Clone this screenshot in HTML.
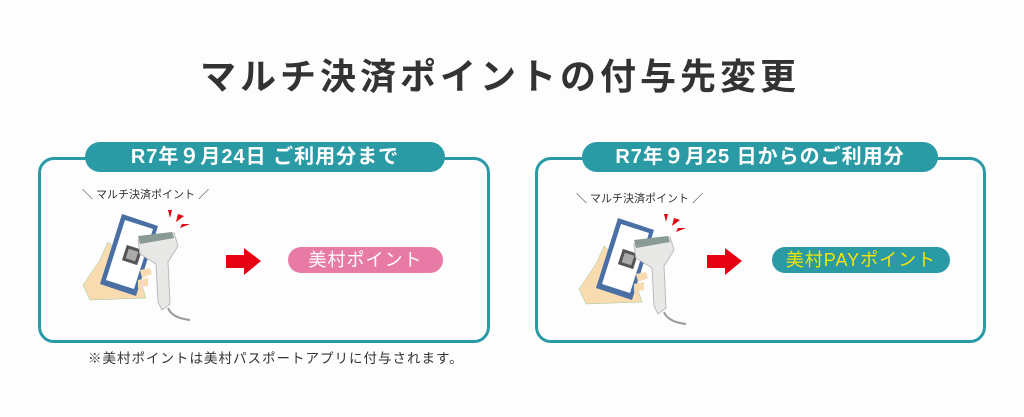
<!DOCTYPE html>
<html><head><meta charset="utf-8"><style>
body{margin:0;width:1024px;height:417px;background:#fdfdfd;position:relative;overflow:hidden;font-family:"Liberation Sans","Noto Sans CJK JP",sans-serif;}
.a{position:absolute;}
.title{left:0;width:1000px;top:48px;text-align:center;font-size:36px;font-weight:bold;color:#333;letter-spacing:4px;}
.box{border:3px solid #2a9aa5;border-radius:16px;box-sizing:border-box;}
.hd{background:#2a9aa5;color:#fff;border-radius:16px;font-size:20px;font-weight:bold;text-align:center;line-height:30px;height:30px;letter-spacing:1px;}
.lbl{font-size:11px;color:#333;}
.pill{border-radius:13px;height:26px;line-height:26px;text-align:center;font-size:18px;letter-spacing:1px;}
</style></head><body>
<div class="a title">マルチ決済ポイントの付与先変更</div>

<div class="a box" style="left:38px;top:157px;width:452px;height:186px"></div>
<div class="a hd" style="left:85px;top:142px;width:360px">R7年９月24日 ご利用分まで</div>
<div class="a lbl" style="left:82px;top:186px">＼ マルチ決済ポイント ／</div>
<div class="a pill" style="left:288px;top:247px;width:155px;background:#e87aa6;color:#fff">美村ポイント</div>

<div class="a box" style="left:535px;top:157px;width:451px;height:186px"></div>
<div class="a hd" style="left:582px;top:142px;width:356px">R7年９月25 日からのご利用分</div>
<div class="a lbl" style="left:576px;top:190px">＼ マルチ決済ポイント ／</div>
<div class="a pill" style="left:772px;top:247px;width:178px;background:#2a9aa5;color:#f5e400">美村PAYポイント</div>

<div class="a" style="left:88px;top:347px;font-size:13.5px;color:#333;letter-spacing:1px">※美村ポイントは美村パスポートアプリに付与されます。</div>

<svg class="a" style="left:0;top:0" width="1024" height="417">
<defs>
<g id="ill">
<path d="M3,85 L20,60 L28,42 L34,47 L30,70 L60,80 L66,98 L10,100 Z" fill="#f8dcb0" stroke="#9bc49a" stroke-width="0.5"/>
<path d="M42,14 L78,26 L56,96 L20,84 Z" fill="#4a6fa5"/>
<path d="M45,20 L73,29 L54,89 L26,80 Z" fill="#fff"/>
<rect x="44" y="47" width="16" height="16" fill="#555" transform="rotate(18 52 55)"/>
<rect x="47" y="50" width="10" height="10" fill="#aaa" transform="rotate(18 52 55)"/>
<path d="M58,40 L94,33 L98,46 L88,62 L90,104 L82,110 L78,102 L76,64 L60,54 Z" fill="#e8e8e6" stroke="#bbb" stroke-width="1"/>
<path d="M58,36 L92,32 L94,38 L60,44 Z" fill="#8a9a94"/>
<path d="M60,70 L70,68 L72,74 L62,78 Z M58,80 L68,78 L68,86 L58,88 Z" fill="#f8dcb0"/>
<path d="M88,108 Q92,118 110,120" stroke="#999" stroke-width="2" fill="none"/>
<path d="M88,10 L92,10 L90,18 Z M98,14 L104,16 L96,22 Z M102,24 L110,24 L100,28 Z" fill="#e60012"/>
</g>
<g id="arr"><path d="M0,7 L18,7 L18,0 L35,13 L18,27 L18,20 L0,20 Z" fill="#e60012"/></g>
</defs>
<use href="#ill" x="80" y="200"/>
<use href="#ill" x="576" y="204"/>
<use href="#arr" x="226" y="248"/>
<use href="#arr" x="707" y="248"/>
</svg>
</body></html>
